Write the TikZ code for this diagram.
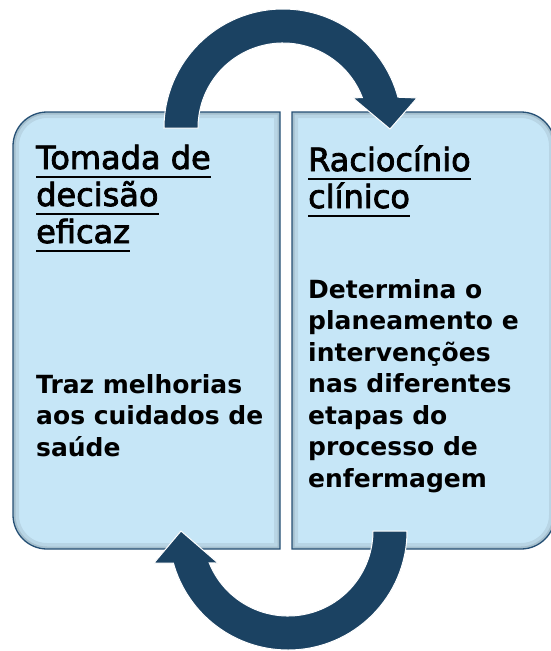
\documentclass[tikz,border=0pt]{standalone}
\usepackage{fontspec}
\setmainfont{DejaVu Sans}
\newfontfamily\titlefont{DejaVu Sans}[FakeBold=2.5]
\usetikzlibrary{calc}
\newcommand{\ulword}[1]{\setbox0\hbox{#1}\rlap{\rule[-9pt]{\wd0}{2pt}}\box0}
\definecolor{boxblue}{RGB}{198,230,247}
\definecolor{edgeblue}{RGB}{38,80,117}
\definecolor{arcblue}{RGB}{27,66,98}
\def\leftshape{(280,112) -- (47,112) arc[start angle=270, end angle=180, radius=34] -- (13,515) arc[start angle=180, end angle=90, radius=34] -- (280,549) -- cycle}
\def\rightshape{(292,112) -- (521,112) arc[start angle=270, end angle=360, radius=34] -- (555,515) arc[start angle=0, end angle=90, radius=34] -- (292,549) -- cycle}

\begin{document}
\begin{tikzpicture} [x=1pt, y=-1pt,
		box/.style={fill=boxblue},
		boxedge/.style={draw=edgeblue, line width=1.3pt},
		bendarrow/.style={fill=arcblue, draw=white, line width=1pt},
		title/.style={anchor=base west, align=left, inner sep=0pt, font=\fontsize{32}{37}\titlefont},
		body/.style={anchor=base west, align=left, inner sep=0pt, font=\fontsize{25}{31.5}\selectfont\bfseries}]

		\useasboundingbox (0,0) rectangle (551,651);
		\clip (0,0) rectangle (551,651);

		% boxes
		\fill [box] \leftshape;
		\fill [box] \rightshape;
		\begin{scope}
			\clip \leftshape;
			\draw [black, opacity=.07, line width=12pt] \leftshape;
			\draw [black, opacity=.1, line width=5pt] \leftshape;
		\end{scope}
		\begin{scope}
			\clip \rightshape;
			\draw [black, opacity=.07, line width=12pt] \rightshape;
			\draw [black, opacity=.1, line width=5pt] \rightshape;
		\end{scope}
		\draw [boxedge] \leftshape;
		\draw [boxedge] \rightshape;

		% arrows
		\coordinate (topc) at (283,128);
		\coordinate (botc) at (288,531);
		\draw [bendarrow] ($(topc)+(180:119)$) arc[start angle=180, end angle=345, radius=119] -- (417,98) -- (390,129) -- (353,98) -- ($(topc)+(339:85)$) arc[start angle=339, end angle=180, radius=85] -- cycle;
		\draw [bendarrow] ($(botc)+(0:119)$) arc[start angle=0, end angle=164.4, radius=119] -- (154,563) -- (181,531) -- (218,563) -- ($(botc)+(157.9:85)$) arc[start angle=157.9, end angle=0, radius=85] -- cycle;

		% text (base = last line)
		\node[title] (lefttitle) at (36,243) {\ulword{Tomada de}\\\ulword{decisão}\\\ulword{eficaz}};
		\node[title] (righttitle) at (308,208) {\ulword{Raciocínio}\\\ulword{clínico}};
		\node[body] (lefttext) at (36,456) {Traz melhorias\\aos cuidados de\\saúde};
		\node[body] (righttext) at (308,487) {Determina o\\planeamento e\\intervenções\\nas diferentes\\etapas do\\processo de\\enfermagem};

	\end{tikzpicture}
\end{document}
